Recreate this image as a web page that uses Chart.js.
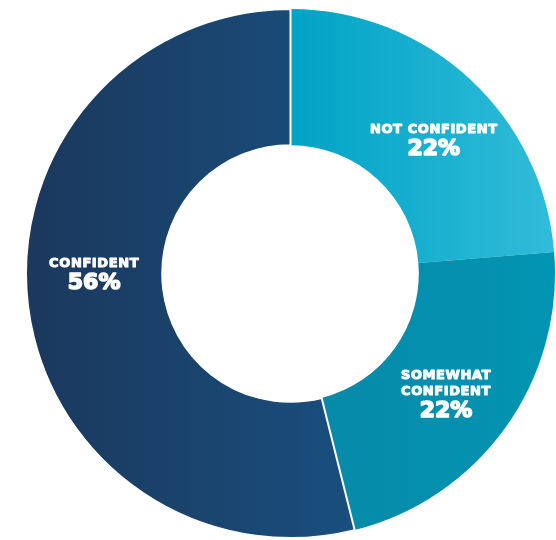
<!DOCTYPE html>
<html lang="en">
<head>
<meta charset="UTF-8">
<title>Confidence</title>
<script src="https://cdn.jsdelivr.net/npm/chart.js"></script>
<style>
  html, body { margin: 0; padding: 0; background: #fff; }
  #wrap { width: 556px; height: 540px; }
</style>
</head>
<body>
<div id="wrap"><canvas id="donut" width="556" height="540"></canvas></div>
<script>
// data
const categories = ['NOT CONFIDENT', 'SOMEWHAT CONFIDENT', 'CONFIDENT'];
const labelLines = [['NOT CONFIDENT'], ['SOMEWHAT', 'CONFIDENT'], ['CONFIDENT']];
const percentLabels = ['22%', '22%', '56%'];
const sliceSizes = [23.7, 22.4, 53.9]; // arc sizes as drawn

// gradient colours per slice (left -> right)
const sliceColors = [
  ['#00a3c5', '#31bcda'],
  ['#0888a7', '#0195b3'],
  ['#1b385c', '#194f7e']
];
const labelShift = [4.2, 2, 7]; // degrees, nudges text along the ring

function sliceFill(ctx) {
  const chart = ctx.chart;
  const area = chart.chartArea;
  const i = ctx.dataIndex;
  if (!area) return sliceColors[i][0];
  const cx = (area.left + area.right) / 2;
  const r = Math.min(area.right - area.left, area.bottom - area.top) / 2;
  let x0, x1;
  if (i === 2) { x0 = cx - r; x1 = cx + r * 0.25; }
  else { x0 = cx; x1 = cx + r; }
  const g = chart.ctx.createLinearGradient(x0, 0, x1, 0);
  g.addColorStop(0, sliceColors[i][0]);
  g.addColorStop(1, sliceColors[i][1]);
  return g;
}

const ringLabels = {
  id: 'ringLabels',
  afterDatasetsDraw(chart) {
    const ctx = chart.ctx;
    const meta = chart.getDatasetMeta(0);
    ctx.save();
    ctx.fillStyle = '#fff';
    ctx.strokeStyle = '#fff';
    ctx.lineJoin = 'round';
    ctx.textAlign = 'center';
    ctx.textBaseline = 'alphabetic';
    meta.data.forEach((arc, i) => {
      const p = arc.getProps(['x', 'y', 'startAngle', 'endAngle', 'innerRadius', 'outerRadius'], true);
      const mid = (p.startAngle + p.endAngle) / 2 + labelShift[i] * Math.PI / 180;
      const rr = (p.innerRadius + p.outerRadius) / 2;
      const ax = p.x + Math.cos(mid) * rr;
      const ay = p.y + Math.sin(mid) * rr;
      const lines = labelLines[i];
      const capSmall = 9.5, pitch = 16, bigGap = 22;
      const h = capSmall + pitch * (lines.length - 1) + bigGap;
      let b = ay - h / 2 + capSmall;
      ctx.font = 'bold 13px "DejaVu Sans"';
      ctx.letterSpacing = '0.6px';
      ctx.lineWidth = 1;
      lines.forEach((t, k) => {
        ctx.fillText(t, ax, b + k * pitch);
        ctx.strokeText(t, ax, b + k * pitch);
      });
      ctx.font = 'bold 22px "DejaVu Sans"';
      ctx.letterSpacing = '0px';
      ctx.lineWidth = 1.6;
      const yb = b + pitch * (lines.length - 1) + bigGap;
      ctx.fillText(percentLabels[i], ax, yb);
      ctx.strokeText(percentLabels[i], ax, yb);
    });
    ctx.restore();
  }
};

new Chart(document.getElementById('donut'), {
  type: 'doughnut',
  data: {
    labels: categories,
    datasets: [{
      data: sliceSizes,
      backgroundColor: sliceFill,
      borderColor: '#ffffff',
      borderWidth: [0, 0, 2],
      hoverOffset: 0
    }]
  },
  options: {
    responsive: false,
    animation: false,
    cutout: '48.5%',
    layout: { padding: { left: 25, right: 0, top: 8, bottom: 1 } },
    plugins: {
      legend: { display: false },
      tooltip: { enabled: false }
    }
  },
  plugins: [ringLabels]
});
</script>
</body>
</html>
